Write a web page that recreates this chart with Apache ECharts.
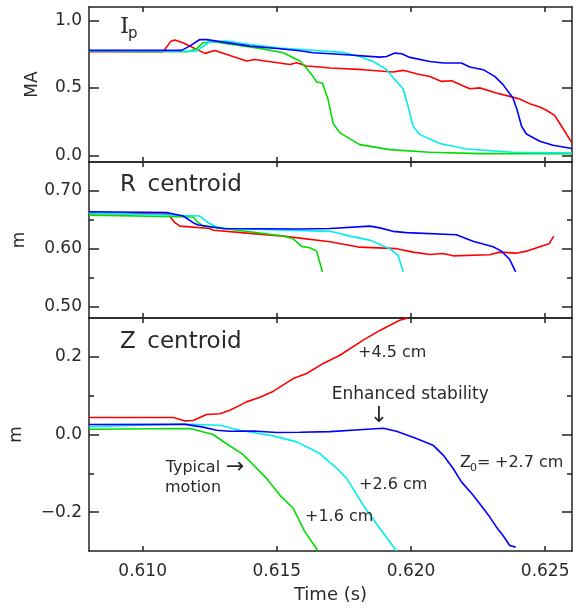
<!DOCTYPE html>
<html><head><meta charset="utf-8">
<script src="https://cdn.jsdelivr.net/npm/echarts@6/dist/echarts.min.js"></script>
<style>html,body{margin:0;padding:0;background:#fff}#c{width:579px;height:609px}</style>
</head><body><div id="c"></div>
<script>
// ---- tick values ----
const timeTicks = [0.610, 0.615, 0.620, 0.625];
const ipTicks = [0.0, 0.5, 1.0];
const rTicks = [0.50, 0.60, 0.70];
const rMinor = [0.55, 0.65];
const zTicks = [-0.2, 0.0, 0.2];
const zMinor = [-0.1, 0.1];

// ---- Plasma current Ip (MA): [time s, value] ----
const ipRed = [[0.60800,0.768],[0.61076,0.768],[0.61105,0.845],[0.61120,0.856],[0.61150,0.835],[0.61232,0.756],[0.61269,0.778],[0.61387,0.699],[0.61418,0.711],[0.61549,0.674],[0.61574,0.686],[0.61611,0.662],[0.61660,0.655],[0.61698,0.647],[0.61822,0.635],[0.61933,0.618],[0.61971,0.630],[0.62020,0.605],[0.62070,0.585],[0.62114,0.548],[0.62151,0.553],[0.62219,0.494],[0.62256,0.500],[0.62318,0.462],[0.62368,0.437],[0.62405,0.418],[0.62442,0.383],[0.62480,0.358],[0.62505,0.334],[0.62536,0.294],[0.62561,0.215],[0.62600,0.092]];
const ipGreen = [[0.60800,0.772],[0.61170,0.768],[0.61200,0.790],[0.61226,0.835],[0.61263,0.842],[0.61437,0.793],[0.61524,0.761],[0.61586,0.699],[0.61611,0.645],[0.61635,0.585],[0.61648,0.543],[0.61670,0.536],[0.61691,0.413],[0.61710,0.235],[0.61735,0.166],[0.61809,0.079],[0.61921,0.042],[0.62070,0.022],[0.62256,0.012],[0.62600,0.012]];
const ipCyan = [[0.60800,0.775],[0.61200,0.772],[0.61250,0.842],[0.61313,0.847],[0.61400,0.822],[0.61511,0.795],[0.61660,0.775],[0.61747,0.763],[0.61809,0.733],[0.61859,0.696],[0.61909,0.635],[0.61940,0.561],[0.61971,0.492],[0.61989,0.363],[0.62008,0.215],[0.62033,0.153],[0.62107,0.087],[0.62207,0.047],[0.62380,0.022],[0.62600,0.017]];
const ipBlue = [[0.60800,0.778],[0.61145,0.778],[0.61175,0.810],[0.61213,0.859],[0.61238,0.858],[0.61400,0.810],[0.61511,0.790],[0.61586,0.775],[0.61635,0.760],[0.61760,0.746],[0.61884,0.728],[0.61909,0.733],[0.61940,0.758],[0.61965,0.753],[0.61996,0.726],[0.62070,0.696],[0.62120,0.684],[0.62188,0.684],[0.62219,0.655],[0.62269,0.635],[0.62312,0.585],[0.62343,0.524],[0.62380,0.425],[0.62395,0.339],[0.62412,0.215],[0.62430,0.158],[0.62480,0.104],[0.62529,0.074],[0.62600,0.050]];

// ---- R centroid (m) ----
const rRed = [[0.60800,0.661],[0.61095,0.6595],[0.61120,0.645],[0.61139,0.639],[0.61251,0.635],[0.61263,0.632],[0.61400,0.6264],[0.61524,0.6217],[0.61698,0.612],[0.61809,0.6026],[0.61946,0.600],[0.62008,0.594],[0.62070,0.590],[0.62120,0.5917],[0.62157,0.5876],[0.62293,0.5894],[0.62331,0.594],[0.62393,0.5922],[0.62430,0.5957],[0.62505,0.6073],[0.62514,0.608],[0.62532,0.6217]];
const rGreen = [[0.60800,0.658],[0.61188,0.6548],[0.61207,0.645],[0.61226,0.639],[0.61400,0.6294],[0.61524,0.622],[0.61561,0.6172],[0.61592,0.604],[0.61623,0.6016],[0.61648,0.5957],[0.61670,0.560]];
const rCyan = [[0.60800,0.662],[0.61213,0.6565],[0.61244,0.645],[0.61276,0.6374],[0.61313,0.635],[0.61698,0.630],[0.61735,0.6264],[0.61772,0.6217],[0.61847,0.6148],[0.61884,0.6073],[0.61921,0.600],[0.61952,0.5882],[0.61971,0.560]];
const rBlue = [[0.60800,0.664],[0.61089,0.6624],[0.61151,0.6565],[0.61188,0.645],[0.61207,0.641],[0.61300,0.635],[0.61586,0.634],[0.61698,0.635],[0.61847,0.639],[0.61884,0.636],[0.61933,0.630],[0.61983,0.6277],[0.62169,0.6242],[0.62231,0.613],[0.62306,0.6033],[0.62337,0.5957],[0.62368,0.5812],[0.62390,0.560]];

// ---- Z centroid (m) ----
const zRed = [[0.60800,0.0438],[0.61114,0.0438],[0.61158,0.035],[0.61188,0.036],[0.61238,0.0515],[0.61288,0.0535],[0.61325,0.0625],[0.61362,0.075],[0.61387,0.084],[0.61437,0.096],[0.61486,0.111],[0.61511,0.122],[0.61561,0.144],[0.61611,0.157],[0.61673,0.183],[0.61735,0.204],[0.61822,0.243],[0.61884,0.268],[0.61958,0.294],[0.61989,0.300]];
const zGreen = [[0.60800,0.0136],[0.61176,0.0154],[0.61263,0.0],[0.61300,-0.018],[0.61375,-0.052],[0.61462,-0.113],[0.61511,-0.156],[0.61561,-0.19],[0.61604,-0.25],[0.61654,-0.30]];
const zCyan = [[0.60800,0.020],[0.61151,0.027],[0.61288,0.024],[0.61362,0.011],[0.61487,-0.0036],[0.61574,-0.019],[0.61660,-0.049],[0.61723,-0.087],[0.61760,-0.113],[0.61822,-0.182],[0.61884,-0.242],[0.61921,-0.276],[0.61946,-0.30]];
const zBlue = [[0.60800,0.0257],[0.61158,0.026],[0.61220,0.0196],[0.61276,0.011],[0.61325,0.0085],[0.61412,0.009],[0.61499,0.005],[0.61586,0.0058],[0.61698,0.0075],[0.61822,0.013],[0.61896,0.016],[0.61946,0.0085],[0.62020,-0.0103],[0.62082,-0.0275],[0.62120,-0.053],[0.62157,-0.0875],[0.62188,-0.122],[0.62231,-0.156],[0.62269,-0.19],[0.62293,-0.212],[0.62318,-0.238],[0.62343,-0.26],[0.62368,-0.286],[0.62390,-0.290]];

const FONT = 'DejaVu Sans';
const INK = '#2a2a2a';
const COLORS = {red:'#ff0000', green:'#00dd00', cyan:'#00eeee', blue:'#0000ff'};

const chart = echarts.init(document.getElementById('c'), null, {renderer:'canvas', width:579, height:609});

const grids = [
  {left:89, top:7, width:483, height:155},
  {left:89, top:162, width:483, height:156},
  {left:89, top:318, width:483, height:233}
];
grids.forEach(g => { g.outerBoundsMode = 'none'; g.containLabel = false; });

const lineSt = {color:'#222', width:1.5};
const xAxes = [];
grids.forEach((g, i) => {
  ['bottom', 'top'].forEach(pos => {
    const showLab = (i === 2 && pos === 'bottom');
    xAxes.push({
      type:'value', gridIndex:i, position:pos, min:0.608, max:0.626,
      axisLine:{show:true, onZero:false, lineStyle:lineSt},
      splitLine:{show:false},
      axisTick:{show:true, inside:true, length:5, customValues:timeTicks, lineStyle:lineSt},
      axisLabel:{show:showLab, customValues:timeTicks, formatter:v => v.toFixed(3), margin:12,
                 fontSize:17, fontFamily:FONT, color:INK},
      name: showLab ? 'Time (s)' : '', nameLocation:'middle', nameGap:35,
      nameTextStyle:{fontSize:18, fontFamily:FONT, color:INK}
    });
  });
});

const yAxes = [];
function addY(gi, pos, min, max, ticks, len, showLine, showLabel, fmt, name, nameGap) {
  yAxes.push({
    type:'value', gridIndex:gi, position:pos, min:min, max:max,
    axisLine:{show:showLine, onZero:false, lineStyle:lineSt},
    splitLine:{show:false},
    axisTick:{show:true, inside:true, length:len, customValues:ticks, lineStyle:lineSt},
    axisLabel:{show:showLabel, customValues:ticks, formatter:fmt, margin:7,
               fontSize:17, fontFamily:FONT, color:INK},
    name:name || '', nameLocation:'middle', nameGap:nameGap || 0, nameRotate:90,
    nameTextStyle:{fontSize:17, fontFamily:FONT, color:INK}
  });
  return yAxes.length - 1;
}
const f1 = v => v.toFixed(1);
const f2 = v => v.toFixed(2);
const fz = v => (Math.abs(v) < 1e-9 ? '0.0' : (v < 0 ? '\u2212' + Math.abs(v).toFixed(1) : v.toFixed(1)));

const yIp = addY(0, 'left', -0.05, 1.1, ipTicks, 10, true, true, f1, 'MA', 48);
addY(0, 'right', -0.05, 1.1, ipTicks, 10, true, false, f1);
const yR = addY(1, 'left', 0.48, 0.75, rTicks, 10, true, true, f2, 'm', 61);
addY(1, 'right', 0.48, 0.75, rTicks, 10, true, false, f2);
addY(1, 'left', 0.48, 0.75, rMinor, 5, false, false, f2);
addY(1, 'right', 0.48, 0.75, rMinor, 5, false, false, f2);
const yZ = addY(2, 'left', -0.3, 0.3, zTicks, 10, true, true, fz, 'm', 64);
addY(2, 'right', -0.3, 0.3, zTicks, 10, true, false, fz);
addY(2, 'left', -0.3, 0.3, zMinor, 5, false, false, fz);
addY(2, 'right', -0.3, 0.3, zMinor, 5, false, false, fz);

const series = [];
function addS(data, color, xi, yi) {
  series.push({type:'line', data:data, xAxisIndex:xi, yAxisIndex:yi, showSymbol:false, symbol:'none',
    lineStyle:{color:color, width:1.6}, itemStyle:{color:color}, clip:true, animation:false, silent:true});
}
[[ipRed,'red'],[ipGreen,'green'],[ipCyan,'cyan'],[ipBlue,'blue']].forEach(p => addS(p[0], COLORS[p[1]], 0, yIp));
[[rRed,'red'],[rGreen,'green'],[rCyan,'cyan'],[rBlue,'blue']].forEach(p => addS(p[0], COLORS[p[1]], 2, yR));
[[zRed,'red'],[zGreen,'green'],[zCyan,'cyan'],[zBlue,'blue']].forEach(p => addS(p[0], COLORS[p[1]], 4, yZ));

function txt(x, y, text, size, opt) {
  opt = opt || {};
  const al = opt.align || 'left';
  return {type:'text', x:x, y:y, silent:true, z:100,
    style:{text:text, fontSize:size, fontFamily:opt.family || FONT, fill:INK,
      textAlign:al, align:al, textVerticalAlign:'middle', verticalAlign:'middle'}};
}
const graphics = [
  txt(120, 26.7, 'I', 23, {family:'DejaVu Serif'}),
  txt(128, 34.5, 'p', 15),
  txt(120, 185, 'R\u2002centroid', 23),
  txt(120, 342, 'Z\u2002centroid', 23),
  txt(358, 352.5, '+4.5 cm', 16),
  txt(331.7, 395, 'Enhanced stability', 17),
  txt(379, 416, '\u2193', 22, {align:'center'}),
  txt(460, 463.3, 'Z', 16),
  txt(470, 468, '0', 11),
  txt(477, 463.3, '=', 16),
  txt(495, 463.3, '+2.7 cm', 16),
  txt(359, 485, '+2.6 cm', 16),
  txt(305, 517, '+1.6 cm', 16),
  txt(165.7, 467.5, 'Typical', 16),
  txt(226, 467.5, '\u2192', 22),
  txt(165, 487.5, 'motion', 16)
];

chart.setOption({
  animation:false,
  backgroundColor:'#fff',
  grid:grids,
  xAxis:xAxes,
  yAxis:yAxes,
  series:series,
  graphic:{elements:graphics}
});
</script>
</body></html>
